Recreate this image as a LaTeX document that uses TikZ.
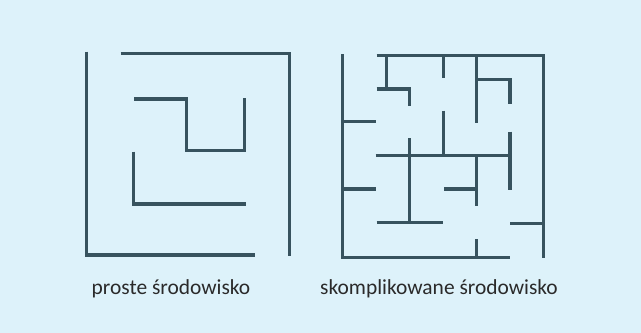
\documentclass[tikz,border=0pt]{standalone}
\usepackage{fontspec}
\setmainfont{Carlito}
\definecolor{bg}{HTML}{DDF2FA}
\definecolor{wall}{HTML}{37535E}
\definecolor{txt}{HTML}{2A2A2A}
\begin{document}
\begin{tikzpicture}[x=0.02cm,y=-0.02cm,
  wallline/.style={draw=wall,line width=1.9pt,line cap=butt,line join=miter},
  caption/.style={font=\fontsize{12.2}{14}\selectfont,text=txt,inner sep=0pt}]
\fill[bg] (0,0) rectangle (641,333);
\useasboundingbox (0,0) rectangle (641,333);
% simple maze
\draw[wallline] (86.7,51.7) -- (86.7,255) -- (255,255);
\draw[wallline] (120.7,53.3) -- (289.3,53.3) -- (289.3,255.7);
\draw[wallline] (134,99) -- (186.7,99) -- (186.7,150.7) -- (244.3,150.7) -- (244.3,98);
\draw[wallline] (133.3,151.7) -- (133.3,204) -- (245.7,204);
% complex maze
\draw[wallline] (342.3,54.3) -- (342.3,257.7) -- (510,257.7);
\draw[wallline] (376.7,55.7) -- (543.3,55.7) -- (543.3,257.7);
\draw[wallline] (386.7,55.7) -- (386.7,89);
\draw[wallline] (376.7,89) -- (409.3,89) -- (409.3,105.7);
\draw[wallline] (443.3,55.7) -- (443.3,78.3);
\draw[wallline] (476.7,55.7) -- (476.7,122.7);
\draw[wallline] (476.7,79.3) -- (510,79.3) -- (510,104);
\draw[wallline] (342.3,121.7) -- (375.7,121.7);
\draw[wallline] (443.3,110.7) -- (443.3,155.7);
\draw[wallline] (375.7,155.7) -- (510,155.7);
\draw[wallline] (409.3,138.3) -- (409.3,222.7);
\draw[wallline] (510,131.7) -- (510,190);
\draw[wallline] (476.7,155.7) -- (476.7,206);
\draw[wallline] (444,189) -- (476.7,189);
\draw[wallline] (342.3,189) -- (375.7,189);
\draw[wallline] (376.7,222.7) -- (443.3,222.7);
\draw[wallline] (510,223.3) -- (543.3,223.3);
\draw[wallline] (476.7,239.3) -- (476.7,257.7);
% captions
\node[caption] (simple) at (171,289) {proste środowisko};
\node[caption] (complex) at (439,289) {skomplikowane środowisko};
\end{tikzpicture}
\end{document}
